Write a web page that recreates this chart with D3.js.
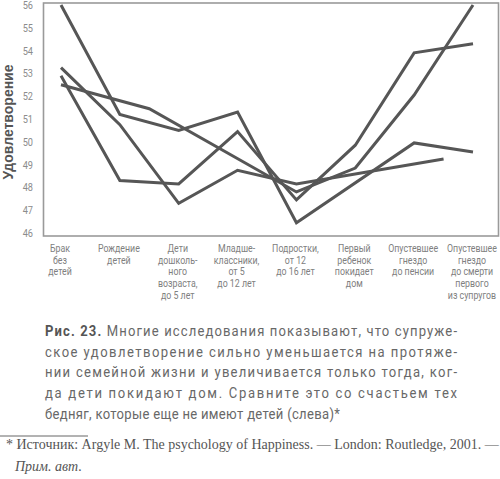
<!DOCTYPE html>
<html>
<head>
<meta charset="utf-8">
<script src="https://cdn.jsdelivr.net/npm/d3@7"></script>
<style>
	body { margin: 0; background: #fff; }
	svg { display: block; }
</style>
</head>
<body>
<div id="chart"></div>
<script>
// stages of family life (x axis), one label line per array entry
var stages = [
	['Брак', 'без', 'детей'],
	['Рождение', 'детей'],
	['Дети', 'дошколь-', 'ного', 'возраста,', 'до 5 лет'],
	['Младше-', 'классники,', 'от 5', 'до 12 лет'],
	['Подростки,', 'от 12', 'до 16 лет'],
	['Первый', 'ребенок', 'покидает', 'дом'],
	['Опустевшее', 'гнездо', 'до пенсии'],
	['Опустевшее', 'гнездо', 'до смерти', 'первого', 'из супругов']
];
var yTicks = [46, 47, 48, 49, 50, 51, 52, 53, 54, 55, 56];

// each study: stage position + satisfaction value
var studyAStage = [0, 1, 2, 3, 4, 6, 7];
var studyAValue = [56.0, 51.2, 50.5, 51.3, 46.45, 49.95, 49.55];
var studyBStage = [0, 1.5, 4, 5, 6, 7];
var studyBValue = [52.5, 51.45, 47.8, 48.85, 52.05, 56.0];
var studyCStage = [0, 1, 2, 3, 4, 6.5];
var studyCValue = [53.25, 50.75, 47.3, 48.75, 48.15, 49.25];
var studyDStage = [0, 1, 2, 3, 4, 5, 6, 7];
var studyDValue = [52.9, 48.3, 48.15, 50.45, 47.45, 49.85, 53.9, 54.3];

var captionLines = [
	[{t: 'Рис. 23. ', b: true}, {t: 'Многие исследования показывают, что супруже-'}],
	[{t: 'ское удовлетворение сильно уменьшается на протяже-'}],
	[{t: 'нии семейной жизни и увеличивается только тогда, ког-'}],
	[{t: 'да дети покидают дом. Сравните это со счастьем тех'}],
	[{t: 'бедняг, которые еще не имеют детей (слева)*'}]
];
var footnote = '* Источник: Argyle M. The psychology of Happiness. — London: Routledge, 2001. —';
var footnote2 = 'Прим. авт.';

var width = 500, height = 479;
var narrowFont = "Roboto, 'DejaVu Sans', sans-serif";
var squeeze = 0.8; // condensed look for the small axis texts

var svg = d3.select('#chart').append('svg')
	.attr('width', width)
	.attr('height', height);

var x = d3.scaleLinear().domain([0, 7]).range([61, 473]);
var y = d3.scaleLinear().domain([46, 56]).range([233, 5]);

// plot frame
svg.append('rect')
	.attr('x', 43.5)
	.attr('y', 3)
	.attr('width', 455)
	.attr('height', 233)
	.attr('fill', 'none')
	.attr('stroke', '#9a9a9a')
	.attr('stroke-width', 1.6);

// y tick labels
svg.selectAll('.ytick')
	.data(yTicks)
	.enter()
	.append('text')
	.attr('class', 'ytick')
	.attr('transform', function(d) { return 'translate(33,' + (y(d) + 4) + ') scale(' + squeeze + ',1)'; })
	.attr('text-anchor', 'end')
	.style('font-family', narrowFont)
	.style('font-size', '11.5px')
	.style('fill', '#8c8c8c')
	.text(function(d) { return d; });

svg.append('text')
	.attr('transform', 'translate(13,122) rotate(-90)')
	.attr('text-anchor', 'middle')
	.style('font-family', "'Liberation Sans', Arial, sans-serif")
	.style('font-weight', 700)
	.style('font-size', '14px')
	.style('fill', '#555')
	.text('Удовлетворение');

// category labels, one text per line
var cat = svg.selectAll('.cat')
	.data(stages)
	.enter()
	.append('g')
	.attr('class', 'cat')
	.attr('transform', function(d, i) { return 'translate(' + (x(i) - 1) + ',0) scale(' + squeeze + ',1)'; });

cat.selectAll('text')
	.data(function(d) { return d; })
	.enter()
	.append('text')
	.attr('x', 0)
	.attr('y', function(d, j) { return 252 + j * 11.7; })
	.attr('text-anchor', 'middle')
	.style('font-family', narrowFont)
	.style('font-size', '11px')
	.style('fill', '#808080')
	.text(function(d) { return d; });

// study lines
var studies = [
	d3.zip(studyAStage, studyAValue),
	d3.zip(studyBStage, studyBValue),
	d3.zip(studyCStage, studyCValue),
	d3.zip(studyDStage, studyDValue)
];

var line = d3.line()
	.x(function(d) { return x(d[0]); })
	.y(function(d) { return y(d[1]); });

svg.selectAll('.study')
	.data(studies)
	.enter()
	.append('path')
	.attr('class', 'study')
	.attr('d', line)
	.attr('fill', 'none')
	.attr('stroke', '#565656')
	.attr('stroke-width', 3)
	.attr('stroke-linejoin', 'miter');

// caption: narrow face, justified lines stretched by letter spacing like the book
var capLeft = 45, capRight = 457, capTop = 336, capStep = 20.7, capSqueeze = 0.9;
captionLines.forEach(function(parts, li) {
	var t = svg.append('text')
		.attr('transform', 'translate(' + capLeft + ',' + (capTop + li * capStep) + ') scale(' + capSqueeze + ',1)')
		.style('font-family', "Roboto, sans-serif")
		.style('font-size', '14.5px')
		.style('fill', '#686868');
	t.selectAll('tspan')
		.data(parts)
		.enter()
		.append('tspan')
		.style('font-weight', function(d) { return d.b ? 700 : 400; })
		.style('fill', function(d) { return d.b ? '#555' : null; })
		.text(function(d) { return d.t; });
	if (li < captionLines.length - 1) {
		t.attr('textLength', (capRight - capLeft) / capSqueeze)
			.attr('lengthAdjust', 'spacing');
	} else {
		t.style('letter-spacing', '0.35px');
	}
});

// footnote
svg.append('line')
	.attr('x1', 0)
	.attr('x2', 88)
	.attr('y1', 436)
	.attr('y2', 436)
	.attr('stroke', '#666')
	.attr('stroke-width', 1);

svg.append('text')
	.attr('x', 6)
	.attr('y', 449)
	.style('font-family', "'Liberation Serif', serif")
	.style('font-size', '14px')
	.style('fill', '#555')
	.text(footnote);

svg.append('text')
	.attr('x', 15)
	.attr('y', 471)
	.style('font-family', "'Liberation Serif', serif")
	.style('font-size', '14px')
	.style('font-style', 'italic')
	.style('fill', '#555')
	.text(footnote2);
</script>
</body>
</html>
